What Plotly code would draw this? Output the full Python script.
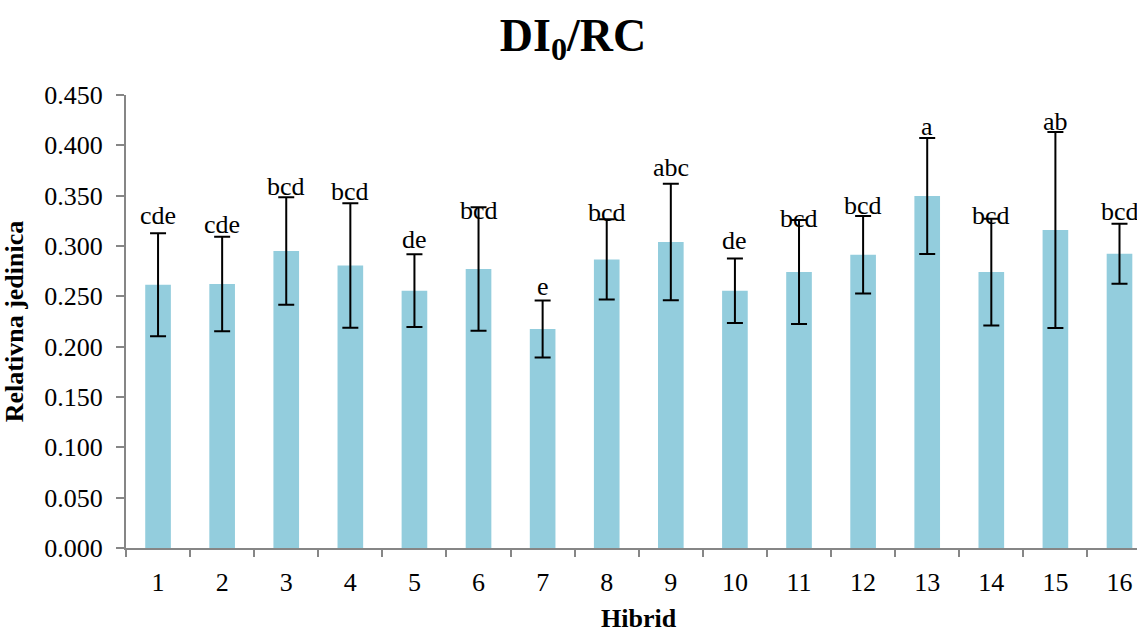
import plotly.graph_objects as go

hibrid = [str(i) for i in range(1, 17)]
means = [0.2615, 0.2622, 0.2950, 0.2807, 0.2556, 0.2771, 0.2175, 0.2867,
         0.3040, 0.2556, 0.2741, 0.2913, 0.3496, 0.2741, 0.3159, 0.2923]
errors = [0.0512, 0.0470, 0.0534, 0.0618, 0.0361, 0.0613, 0.0283, 0.0398,
          0.0578, 0.0320, 0.0517, 0.0386, 0.0576, 0.0530, 0.0974, 0.0297]
letters = ["cde", "cde", "bcd", "bcd", "de", "bcd", "e", "bcd",
           "abc", "de", "bcd", "bcd", "a", "bcd", "ab", "bcd"]
label_y = [0.3205, 0.3122, 0.3493, 0.3443, 0.2973, 0.3254, 0.2499, 0.3234,
           0.3681, 0.2956, 0.3179, 0.3304, 0.4096, 0.3205, 0.4145, 0.3248]
y_ticks = [i * 0.05 for i in range(10)]

FONT = "Liberation Serif, Times New Roman, serif"
AXIS_GRAY = "#868686"

fig = go.Figure()
fig.add_trace(go.Bar(
    x=hibrid, y=means,
    marker=dict(color="#93CDDD", line=dict(width=0)),
    width=0.4,
    error_y=dict(type="data", array=errors, visible=True,
                 color="black", thickness=2, width=8),
    showlegend=False,
))

for idx, (t, ly) in enumerate(zip(letters, label_y)):
    fig.add_annotation(x=idx, y=ly, text=t, showarrow=False,
                       xanchor="center", yanchor="bottom", yshift=-7,
                       font=dict(family=FONT, size=26, color="black"))

# x-axis title
fig.add_annotation(x=0.5, y=0, xref="paper", yref="paper", text="<b>Hibrid</b>",
                   showarrow=False, xanchor="center", yanchor="middle",
                   xshift=7, yshift=-70,
                   font=dict(family=FONT, size=26, color="black"))

fig.update_layout(
    width=1137, height=629,
    margin=dict(l=126, r=0, t=95, b=81, autoexpand=False),
    paper_bgcolor="white", plot_bgcolor="white",
    font=dict(family=FONT, color="black"),
    title=dict(text="<b>DI<sub>0</sub>/RC</b>", x=0.504, xref="container",
               xanchor="center", y=0.945, yref="container", yanchor="middle",
               font=dict(family=FONT, size=46, color="black")),
    bargap=0.6,
)
fig.update_xaxes(
    type="category", range=[-0.5, 15.273], automargin=False,
    showline=True, linecolor=AXIS_GRAY, linewidth=2,
    ticks="outside", tickson="boundaries", ticklen=7, tickcolor=AXIS_GRAY, tickwidth=2,
    tickfont=dict(family=FONT, size=26, color="black"), ticklabelstandoff=10,
    showgrid=False, zeroline=False,
)
fig.update_yaxes(
    range=[0, 0.45], tickvals=y_ticks, tickformat=".3f", automargin=False,
    showline=True, linecolor=AXIS_GRAY, linewidth=2,
    ticks="outside", ticklen=8, tickcolor=AXIS_GRAY, tickwidth=2,
    tickfont=dict(family=FONT, size=26, color="black"), ticklabelstandoff=8,
    showgrid=False, zeroline=False,
    title=dict(text="<b>Relativna jedinica</b>", font=dict(family=FONT, size=26, color="black"),
               standoff=16),
)

fig.write_html("out.html", config={"displayModeBar": False},
               post_script="document.body.style.margin='0';document.body.style.overflow='hidden';")
